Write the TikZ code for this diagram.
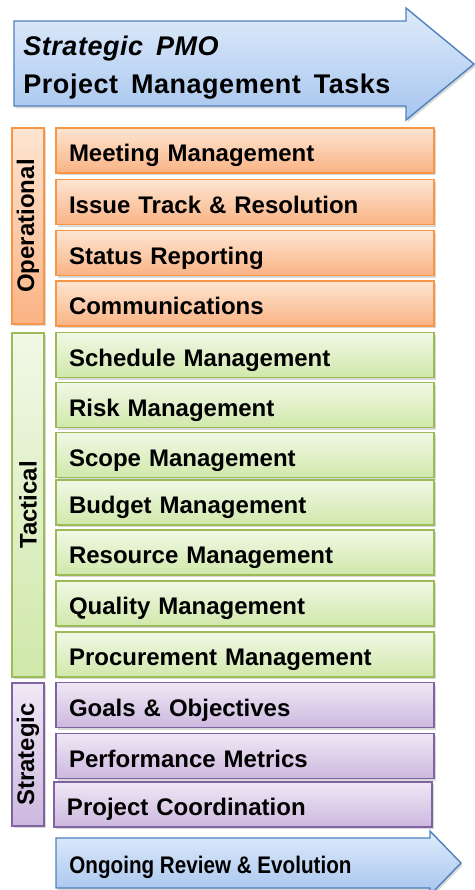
\documentclass[tikz,border=0pt]{standalone}
\usepackage{fontspec}
\usepackage{graphicx}
\setmainfont{Liberation Sans}
\newfontfamily\headfont[LetterSpace=2,WordSpace=1.6]{Liberation Sans}
\usetikzlibrary{positioning,shadows}

\definecolor{opsline}{HTML}{F79646}
\definecolor{opstop}{HTML}{FDE5D2}
\definecolor{opsbot}{HTML}{FAB384}
\definecolor{tacline}{HTML}{9BBB59}
\definecolor{tactop}{HTML}{F1F8E6}
\definecolor{tacbot}{HTML}{D0E8AA}
\definecolor{strline}{HTML}{8064A2}
\definecolor{strtop}{HTML}{EFE8F5}
\definecolor{strbot}{HTML}{CCB8DF}
\definecolor{arrline}{HTML}{4F81BD}
\definecolor{arrtop}{HTML}{DFEBFB}
\definecolor{arrbot}{HTML}{A6C5EE}

\tikzset{
  softshadow/.style={drop shadow={opacity=0.3,shadow xshift=0.8pt,shadow yshift=-1.2pt}},
  task/.style={draw=#1line, line width=0.7pt, top color=#1top, bottom color=#1bot,
    softshadow, minimum width=189pt, minimum height=22.5pt, inner ysep=0pt,
    inner xsep=6.5pt, text width=176pt, align=left, text height=11pt, text depth=0pt,
    font=\bfseries\fontsize{12}{14}\selectfont},
  band/.style={draw=#1line, line width=0.7pt, top color=#1top, bottom color=#1bot,
    softshadow, rotate=90, minimum height=16pt, inner sep=0pt,
    font=\bfseries\fontsize{12}{14}\selectfont},
  bigarrow/.style={draw=arrline, line width=0.7pt, top color=arrtop, bottom color=arrbot, softshadow}
}

\begin{document}
\begin{tikzpicture}[x=0.5pt,y=-0.5pt]
\useasboundingbox (0,0) rectangle (475,890);

% header arrow
\draw [bigarrow] (14,21) -- (406,21) -- (406,8) -- (474,64) -- (406,120) -- (406,106) -- (14,106) -- cycle;
\node (head1) [anchor=base west, inner sep=0pt, font=\headfont\bfseries\itshape\fontsize{13.5}{15}\selectfont] at (23,55) {Strategic PMO};
\node (head2) [anchor=base west, inner sep=0pt, font=\headfont\bfseries\fontsize{13.5}{15}\selectfont] at (23,93) {Project Management Tasks};

% operational
\node (ops) [band=ops, minimum width=98pt] at (28,226) {Operational};
\node (meet) [task=ops] at (245,150.5) {Meeting Management};
\node (issue) [task=ops] at (245,202) {Issue Track \& Resolution};
\node (status) [task=ops] at (245,253) {Status Reporting};
\node (comm) [task=ops] at (245,303.5) {Communications};

% tactical
\node (tac) [band=tac, minimum width=172pt] at (28,505) {Tactical};
\node (sched) [task=tac] at (245,355) {Schedule Management};
\node (risk) [task=tac] at (245,405) {Risk Management};
\node (scope) [task=tac] at (245,455) {Scope Management};
\node (budget) [task=tac] at (245,502.5) {Budget Management};
\node (resrc) [task=tac] at (245,552.5) {Resource Management};
\node (qual) [task=tac] at (245,603.5) {Quality Management};
\node (proc) [task=tac] at (245,654.5) {Procurement Management};

% strategic
\node (strat) [band=str, minimum width=71.5pt] at (28,754.5) {Strategic};
\node (goals) [task=str] at (245,705) {Goals \& Objectives};
\node (perf) [task=str] at (245,756) {Performance Metrics};
\node (coord) [task=str] at (243,804.5) {Project Coordination};

% review arrow
\draw [bigarrow] (56,838) -- (430,838) -- (430,831) -- (461,863) -- (430,895) -- (430,888) -- (56,888) -- cycle;
\node (review) [anchor=base west, inner sep=0pt, font=\bfseries\fontsize{12}{14}\selectfont] at (69,873) {\scalebox{0.86}[1]{Ongoing Review \& Evolution}};
\end{tikzpicture}
\end{document}
